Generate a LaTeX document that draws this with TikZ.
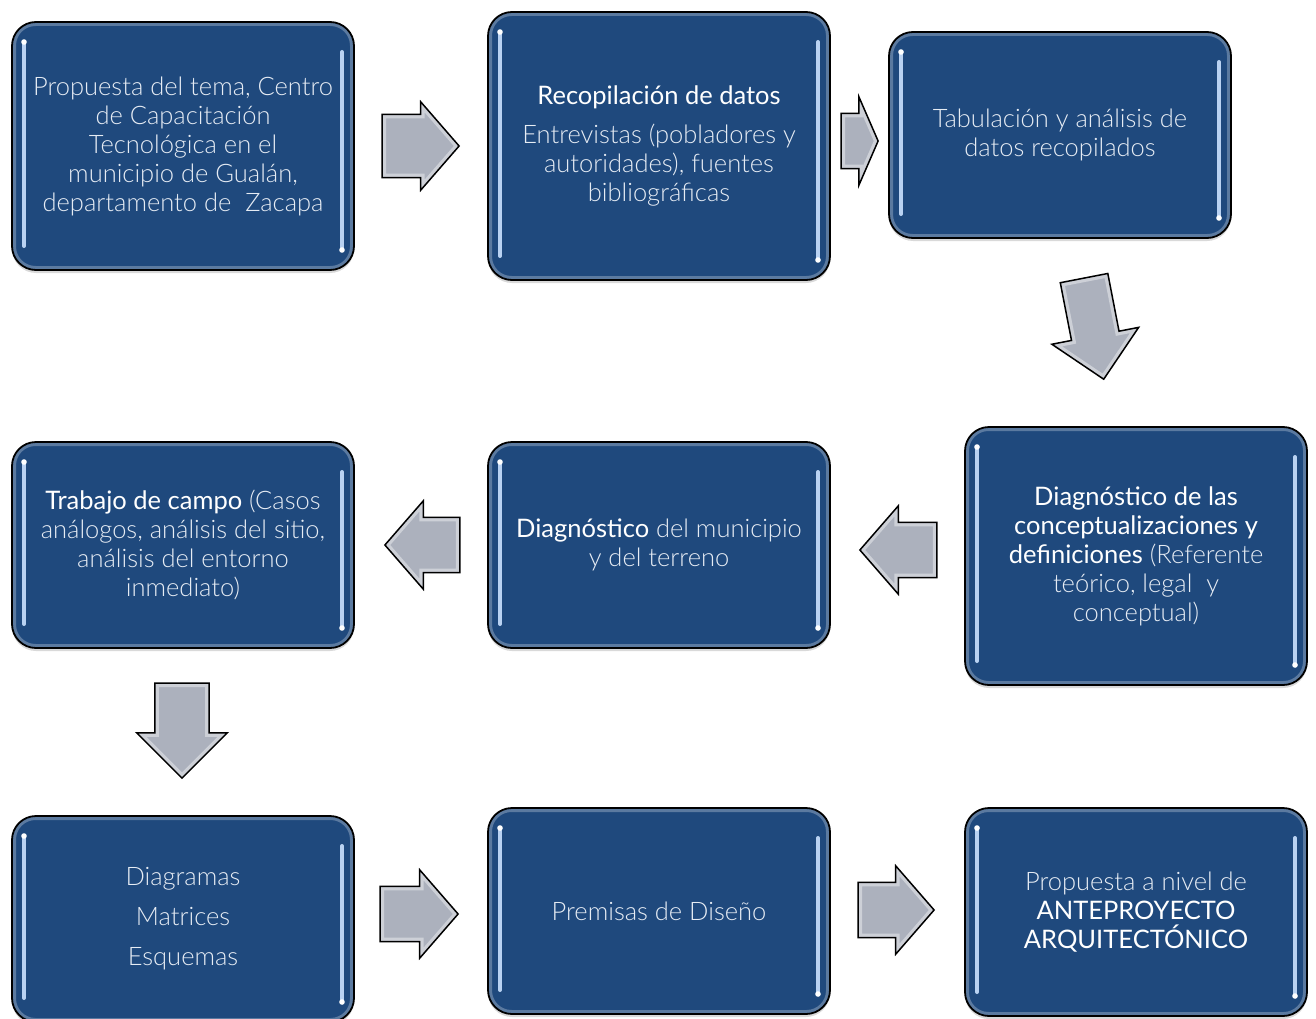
\documentclass[tikz,border=0pt]{standalone}
\usepackage{fontspec}
\setmainfont{Lato}[UprightFont={* Light}, BoldFont={*}]
\usetikzlibrary{positioning,calc,shapes.arrows,shadows}
\definecolor{cajaazul}{HTML}{1F497D}
\definecolor{brillo}{HTML}{B9D2F2}
\definecolor{flechagris}{HTML}{ACB1BD}
\definecolor{textoclaro}{HTML}{E6ECF4}
\newcommand{\cuerpo}{\fontsize{25.5}{29}\selectfont}
\newcommand{\fuerte}[1]{\textcolor{white}{\bfseries #1}}

\tikzset{
  paso/.style={draw=black, line width=1.8pt, fill=cajaazul, rounded corners=24pt,
    minimum width=342pt, inner sep=0pt, align=center, text=textoclaro, font=\cuerpo,
    drop shadow={shadow xshift=0pt, shadow yshift=-3pt, opacity=0.3},
    path picture={
      \draw[cajaazul!55!white, line width=5pt, opacity=0.6, rounded corners=22pt]
        ([shift={(1.5pt,-1.5pt)}]path picture bounding box.north west) rectangle
        ([shift={(-1.5pt,1.5pt)}]path picture bounding box.south east);
      \draw[brillo, line width=4pt, line cap=round]
        ([shift={(12pt,-20pt)}]path picture bounding box.north west) --
        ([shift={(12pt,24pt)}]path picture bounding box.south west);
      \draw[brillo, line width=4pt, line cap=round]
        ([shift={(-12pt,-30pt)}]path picture bounding box.north east) --
        ([shift={(-12pt,20pt)}]path picture bounding box.south east);
      \fill[white] ([shift={(12pt,-20pt)}]path picture bounding box.north west) circle (2.8pt);
      \fill[white] ([shift={(-12pt,20pt)}]path picture bounding box.south east) circle (2.8pt);
    }},
  flecha/.style={single arrow, fill=flechagris, anchor=tail,
    postaction={draw=white, line width=8pt, opacity=0.4},
    postaction={draw=black, line width=1.5pt},
    inner xsep=0pt, inner ysep=27.5pt, minimum height=77pt,
    single arrow head extend=16.5pt, single arrow tip angle=98}
}

\begin{document}
\begin{tikzpicture}[x=1pt,y=-1pt]
  \useasboundingbox (0,0) rectangle (1316,1019);
  % first row
  \node[paso, minimum height=248pt] (tema) at (183,146)
    {Propuesta del tema, Centro\\de Capacitación\\Tecnológica en el\\municipio de Gualán,\\departamento de~ Zacapa};
  \node[paso, minimum height=268pt] (datos) at (659,146)
    {\fuerte{Recopilación de datos}\\[10pt]Entrevistas (pobladores y\\autoridades), fuentes\\bibliográficas};
  \node[paso, minimum height=206pt] (tabula) at (1060,135)
    {Tabulación y análisis de\\datos recopilados};
  % second row
  \node[paso, minimum height=258pt] (concepto) at (1136,556)
    {\fuerte{Diagnóstico de las}\\\fuerte{conceptualizaciones y}\\\fuerte{definiciones} (Referente\\teórico, legal~ y\\conceptual)};
  \node[paso, minimum height=206pt] (municipio) at (659,545)
    {\fuerte{Diagnóstico} del municipio\\y del terreno};
  \node[paso, minimum height=206pt] (campo) at (183,545)
    {\fuerte{Trabajo de campo} (Casos\\análogos, análisis del sitio,\\análisis del entorno\\inmediato)};
  % third row
  \node[paso, minimum height=206pt] (diagramas) at (183,919)
    {Diagramas\\[11pt]Matrices\\[11pt]Esquemas};
  \node[paso, minimum height=206pt] (premisas) at (659,911)
    {Premisas de Diseño};
  \node[paso, minimum height=208pt] (propuesta) at (1136,912)
    {Propuesta a nivel de\\\fuerte{ANTEPROYECTO}\\\fuerte{ARQUITECTÓNICO}};
  % arrows between the boxes (placed by their tails)
  \node[flecha, inner ysep=31.5pt, single arrow head extend=12.5pt] (f1) at ($(tema.east)+(27,0)$) {};
  \node[flecha, minimum height=37pt, single arrow tip angle=133] (f2) at ($(datos.east)+(10,-5)$) {};
  \node[flecha, minimum height=103pt, inner ysep=24pt, single arrow head extend=20pt, single arrow tip angle=90, rotate=-79]
    (f3) at ($(tabula.south)+(24,39)$) {};
  \node[flecha, rotate=180] (f4) at ($(concepto.west)+(-27,-6)$) {};
  \node[flecha, minimum height=75pt, rotate=180] (f5) at ($(municipio.west)+(-27,0)$) {};
  \node[flecha, minimum height=95pt, inner ysep=27pt, single arrow head extend=18pt, single arrow tip angle=90, rotate=-90]
    (f6) at ($(campo.south)+(-1,34)$) {};
  \node[flecha, minimum height=78pt] (f7) at ($(diagramas.east)+(25,-5)$) {};
  \node[flecha, minimum height=76pt] (f8) at ($(premisas.east)+(27,-1)$) {};
\end{tikzpicture}
\end{document}
